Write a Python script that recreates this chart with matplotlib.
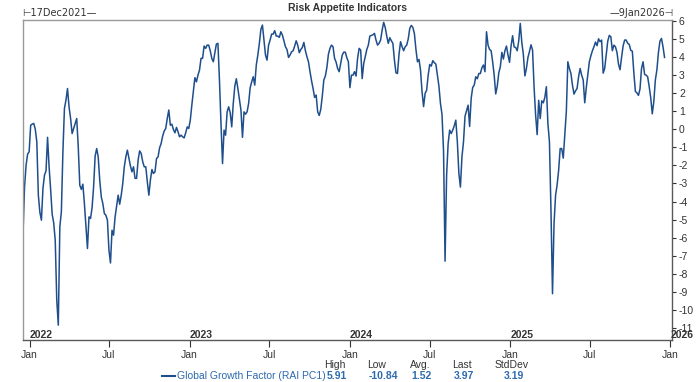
import numpy as np
import pandas as pd
import matplotlib
matplotlib.use("Agg")
import matplotlib.pyplot as plt
import matplotlib.dates as mdates

plt.rcParams['font.family'] = ['Liberation Sans Narrow', 'Liberation Sans', 'DejaVu Sans']
plt.rcParams['axes.unicode_minus'] = False

line_blue = (31/255.0, 78/255.0, 140/255.0)
val_blue = (46/255.0, 106/255.0, 173/255.0)
frame_grey = (0.6, 0.6, 0.6)
text_dark = (0.2, 0.2, 0.2)

# twice-weekly readings of the Global Growth Factor, starting 17 Dec 2021
start = "2021-12-17"
ggf = [
    -5.8, -3.2, -2.0, -1.38, -1.25, 0.22, 0.28, 0.32, 0.0, -0.7,
    -3.65, -4.6, -5.03, -3.28, -2.54, -2.3, -0.45, -2.08, -3.33, -4.7,
    -5.18, -6.14, -9.46, -10.84, -5.4, -4.57, -1.25, 1.15, 1.61, 2.25,
    1.24, 0.6, -0.24, 0.04, 0.32, 0.59, -0.97, -3.1, -3.33, -3.04,
    -4.11, -5.36, -6.6, -4.85, -4.94, -4.35, -3.19, -1.49, -1.07, -1.53,
    -2.82, -3.74, -4.11, -4.66, -4.76, -5.03, -6.69, -7.4, -5.59, -5.86,
    -4.85, -4.26, -3.65, -4.15, -3.65, -3.0, -2.08, -1.53, -1.16, -1.58,
    -2.03, -2.36, -2.08, -2.72, -2.72, -1.71, -1.2, -1.34, -1.8, -2.08,
    -2.08, -2.91, -3.65, -2.82, -2.23, -2.45, -2.36, -1.62, -1.53, -1.03,
    -0.79, -0.38, -0.1, 0.04, 0.6, 1.06, 0.22, 0.28, -0.02, -0.2,
    0.1, -0.14, -0.42, -0.33, -0.42, -0.48, -0.2, 0.13, 0.04, 0.5,
    1.33, 2.07, 2.85, 2.62, 2.99, 3.27, 3.92, 3.92, 4.6, 4.47,
    4.65, 4.65, 4.34, 3.92, 3.73, 4.23, 4.71, 4.75, 2.72, 0.32,
    -1.9, -0.05, -0.33, 0.96, 1.24, 0.91, 0.13, 1.42, 2.38, 2.79,
    2.25, 1.65, 1.06, -0.45, 0.96, 0.83, 0.96, 1.42, 2.29, 2.62,
    2.9, 2.44, 3.55, 4.1, 4.75, 5.52, 5.76, 4.93, 4.1, 3.82,
    4.65, 4.93, 5.26, 5.26, 5.45, 5.15, 5.15, 5.08, 5.39, 5.21,
    4.89, 4.56, 4.41, 3.97, 4.1, 4.28, 4.34, 4.6, 4.89, 4.65,
    4.23, 4.41, 4.52, 4.8, 4.34, 4.01, 3.73, 3.18, 2.68, 2.25,
    1.76, 1.89, 0.96, 0.76, 1.09, 1.83, 2.72, 2.94, 3.42, 4.15,
    4.47, 4.65, 4.56, 3.92, 3.71, 3.36, 3.18, 3.64, 4.1, 4.26,
    4.26, 3.95, 3.73, 2.3, 2.99, 2.99, 3.18, 2.94, 3.92, 4.47,
    4.38, 2.8, 3.64, 4.01, 4.41, 4.65, 5.15, 5.19, 5.22, 5.3,
    4.93, 4.65, 4.75, 4.93, 5.48, 5.91, 5.63, 5.15, 4.75, 5.06,
    4.89, 4.75, 3.82, 3.12, 3.08, 4.15, 4.84, 4.56, 4.34, 4.56,
    4.65, 4.99, 5.58, 5.74, 5.63, 5.3, 4.43, 3.73, 3.86, 3.27,
    2.07, 1.25, 1.98, 2.16, 2.99, 3.58, 3.49, 3.79, 3.68, 3.6,
    2.99, 2.38, 1.42, 0.82, -1.2, -7.3, -2.54, -0.79, -0.05, -0.24,
    -0.05, 0.19, 0.5, -0.7, -2.45, -3.2, -1.53, -0.7, 0.72, 1.02,
    1.33, 0.15, 1.7, 2.31, 2.44, 2.9, 2.79, 3.08, 3.08, 3.4,
    3.55, 3.18, 5.39, 4.65, 4.41, 4.34, 3.73, 2.99, 1.95, 2.38,
    3.12, 3.45, 4.25, 3.88, 4.34, 4.6, 4.1, 3.7, 4.6, 5.17,
    4.55, 4.52, 4.34, 4.89, 5.85, 4.8, 4.14, 2.95, 3.36, 3.97,
    4.3, 4.67, 4.38, 2.31, 0.78, -0.3, 1.6, 0.59, 1.57, 1.46,
    1.76, 2.35, 0.32, -0.7, -4.48, -9.1, -5.22, -3.65, -3.08, -2.27,
    -1.07, -1.07, -1.6, -0.29, 0.96, 3.73, 3.36, 3.08, 2.44, 1.94,
    2.12, 2.25, 2.9, 3.36, 2.99, 2.72, 1.46, 2.29, 2.99, 3.73,
    4.06, 4.34, 4.56, 4.82, 4.62, 5.0, 4.84, 4.93, 3.1, 3.36,
    4.1, 4.87, 5.19, 5.11, 4.34, 4.65, 4.56, 4.25, 3.6, 3.29,
    3.97, 4.6, 4.93, 4.93, 4.75, 4.69, 4.36, 4.32, 3.12, 2.09,
    2.01, 1.87, 2.22, 3.36, 3.73, 3.03, 2.99, 2.9, 2.35, 1.74,
    0.85, 1.52, 2.72, 3.27, 4.23, 4.87, 5.02, 4.56, 3.97,
]
dates = pd.date_range(start, periods=len(ggf), freq="84h")

series_name = "Global Growth Factor (RAI PC1)"
stat_names = ["High", "Low", "Avg.", "Last", "StdDev"]
stat_vals = ["5.91", "-10.84", "1.52", "3.97", "3.19"]
years = ["2022", "2023", "2024", "2025", "2026"]

fig = plt.figure(figsize=(7, 3.82), dpi=100)
ax = fig.add_axes([23/700, 42/382, 649/700, 320/382])

ax.plot(dates, ggf, color=line_blue, lw=1.1)

ax.set_xlim(pd.Timestamp("2021-12-17"), pd.Timestamp("2026-01-05"))
ax.set_ylim(-11.66, 6.04)

for s in ax.spines.values():
    s.set_color(frame_grey)
    s.set_linewidth(1.0)
ax.spines['bottom'].set_color((0.35, 0.35, 0.35))
ax.spines['right'].set_color((0.35, 0.35, 0.35))

ax.yaxis.tick_right()
ax.set_yticks(np.arange(-11, 7, 1))
ax.tick_params(axis='y', direction='out', length=3, width=0.8, labelsize=7.5,
               colors=text_dark, pad=2)
ax.xaxis.set_major_locator(mdates.MonthLocator(bymonth=[1, 7]))
ax.xaxis.set_major_formatter(mdates.DateFormatter("%b"))
ax.tick_params(axis='x', direction='out', length=5, width=0.8, labelsize=7.5,
               colors=text_dark, pad=2)

# year labels sitting on the bottom axis
for y in years:
    ax.text(pd.Timestamp(y + "-01-01"), -11.66, y, fontsize=7.5, color=text_dark,
            ha='left', va='bottom', fontweight='bold')

ax.text(0.5, 1.037, "Risk Appetite Indicators", transform=ax.transAxes,
        ha='center', va='center', fontsize=7.5, fontweight='bold', color=text_dark)
ax.text(-0.002, 1.005, "\u22a217Dec2021\u2014", transform=ax.transAxes,
        ha='left', va='bottom', fontsize=7, color=text_dark,
        family=['Liberation Sans Narrow', 'DejaVu Sans'])
ax.text(1.002, 1.005, "\u20149Jan2026\u22a3", transform=ax.transAxes,
        ha='right', va='bottom', fontsize=7, color=text_dark,
        family=['Liberation Sans Narrow', 'DejaVu Sans'])

# stats legend below the chart
hx = [335, 377, 420, 462, 512]
for name, val, x in zip(stat_names, stat_vals, hx):
    fig.text(x/700, 1 - 365/382, name, ha='center', va='center', fontsize=7.5,
             color=text_dark)
    fig.text(x/700 - 0.012, 1 - 376/382, val, ha='left', va='center', fontsize=7.5,
             color=val_blue, fontweight='bold')
fig.lines.append(plt.Line2D([162/700, 175/700], [1 - 376/382, 1 - 376/382],
                            transform=fig.transFigure, color=line_blue, lw=1.5))
fig.text(177/700, 1 - 376/382, series_name, ha='left', va='center', fontsize=7.5,
         color=val_blue)

fig.savefig("out.png", dpi=100)
